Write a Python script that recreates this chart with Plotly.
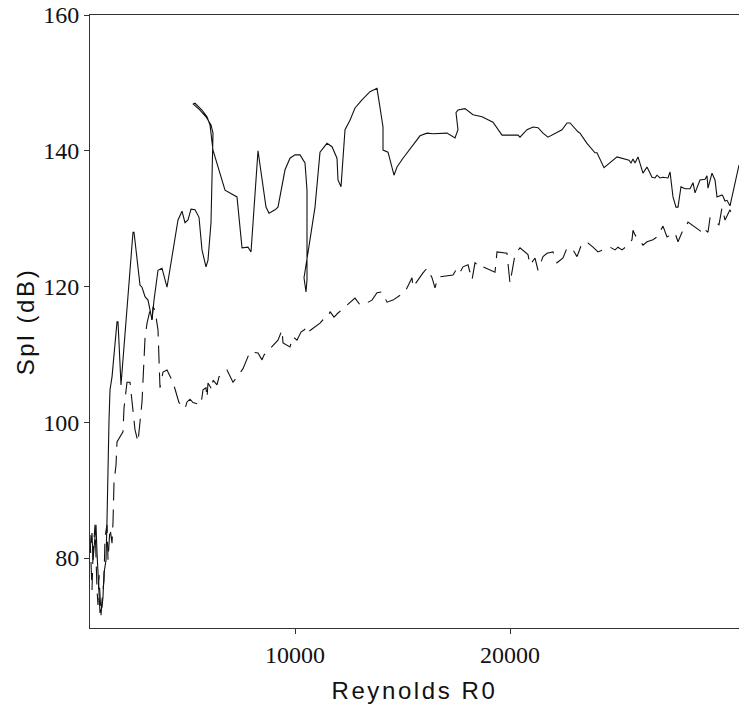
import plotly.graph_objects as go

# Reynolds number (x) and sound pressure level (y) for the two runs
solid_re = [
    512, 558, 605, 698, 744, 791, 884, 931, 1024, 1070, 1117, 1210, 1256, 1303, 1349,
    1396, 1489, 1721, 1768, 1907, 2233, 2465, 2512, 2791, 2884, 3024, 3163, 3256, 3349,
    3442, 3628, 3814, 4047, 4558, 4744, 4884, 5023, 5163, 5349, 5535, 5674, 5860, 5953,
    6093, 6186, 6186, 6093, 5860, 5581, 5256, 5349, 5674, 5907, 6047, 6186, 6744, 7302,
    7535, 7814, 7954, 8279, 8651, 8791, 9070, 9209, 9535, 9767, 10000, 10233, 10465,
    10558, 10558, 10512, 10419, 10698, 10930, 11163, 11488, 11721, 11953, 12000, 12140,
    12326, 12558, 12791, 13116, 13488, 13814, 13953, 14093, 14093, 14326, 14605, 14744,
    15023, 15488, 15814, 16140, 16419, 17070, 17442, 17581, 17488, 17581, 17907, 18279,
    18698, 19209, 19628, 20372, 20465, 20791, 21070, 21302, 21535, 21767, 22418, 22651,
    22791, 23163, 23256, 23581, 23953, 24047, 24372, 24977, 25535, 25628, 25721, 25814,
    25953, 26186, 26372, 26605, 26744, 26837, 26977, 27116, 27349, 27442, 27581, 27721,
    27814, 27953, 28140, 28372, 28512, 28605, 28837, 29070, 29163, 29209, 29395, 29535,
    29628, 29860, 29907, 30000, 30093, 30233, 30651,
]
solid_spl = [
    82.2, 83.7, 79.7, 84.1, 84.9, 80.8, 74.9, 71.9, 72.8, 74.3, 77.8, 79.7, 85.6, 94.5, 100.3,
    104.8, 106.7, 114.8, 114.8, 105.5, 119.5, 128.0, 128.0, 120.2, 119.9, 118.5, 118.0, 116.5, 115.1,
    118.0, 122.4, 122.7, 119.9, 129.8, 131.1, 129.4, 129.8, 131.4, 131.3, 130.2, 125.4, 122.9, 123.9,
    129.4, 139.1, 142.6, 143.8, 145.0, 146.0, 146.9, 147.0, 146.0, 145.0, 143.8, 140.1, 134.2, 133.2,
    125.7, 125.8, 125.1, 140.0, 131.7, 130.8, 131.3, 131.7, 137.2, 138.9, 139.4, 139.4, 138.2,
    134.2, 121.0, 119.2, 121.3, 126.9, 131.7, 139.8, 141.1, 140.6, 138.9, 135.7, 134.7,
    143.1, 144.5, 146.3, 147.5, 148.7, 149.2, 146.4, 143.5, 140.1, 139.8, 136.4, 137.6,
    138.9, 140.9, 142.2, 142.6, 142.5, 142.6, 141.9, 143.1, 145.6, 146.0, 146.2, 145.3,
    145.0, 144.2, 142.3, 142.3, 142.0, 143.1, 143.5, 143.4, 142.6, 142.0, 143.1, 144.1,
    144.1, 142.8, 142.6, 141.1, 139.7, 139.7, 137.5, 139.1, 138.6, 138.2, 138.8, 138.2,
    139.1, 136.7, 137.6, 136.1, 136.0, 136.4, 136.0, 136.1, 136.0, 136.9, 133.2, 131.7,
    131.7, 134.7, 134.4, 134.4, 135.3, 133.8, 135.7, 135.8, 136.3, 134.5, 136.7, 135.7,
    133.2, 133.5, 133.3, 132.6, 132.7, 131.9, 137.9,
]

dashed_re = [
    465, 558, 605, 698, 791, 837, 884, 977, 1024, 1117, 1163, 1256, 1303, 1349, 1396,
    1489, 1535, 1582, 1675, 1721, 2000, 2047, 2140, 2186, 2326, 2372, 2419, 2558, 2698,
    2791, 2884, 3024, 3117, 3256, 3349, 3396, 3489, 3628, 3675, 3721, 3861, 4047, 4326,
    4605, 4884, 4977, 5116, 5256, 5628, 5721, 5860, 5907, 5953, 6140, 6186, 6372, 6465,
    6651, 6837, 7116, 7582, 7768, 7907, 8279, 8465, 8558, 9070, 9209, 9395, 9442, 9767,
    9907, 10093, 10279, 10419, 10558, 10605, 11163, 11302, 11535, 11628, 11814, 12000,
    12558, 12791, 13023, 13349, 13581, 13814, 14047, 14279, 14558, 14791, 15116, 15442,
    15488, 15953, 16140, 16372, 16512, 16651, 17349, 17535, 17674, 17814, 18047, 18233,
    18372, 18698, 18744, 19302, 19395, 19860, 20000, 20233, 20465, 20837, 20930, 21163,
    21302, 21535, 21721, 22000, 22186, 22465, 22651, 22930, 23116, 23349, 23628, 23860,
    24093, 24651, 24884, 25023, 25209, 25488, 25674, 25721, 25814, 26186, 26372, 26651,
    26837, 27116, 27302, 27674, 27814, 28000, 28140, 28279, 28698, 28930, 28977, 29209,
    29302, 29721, 29860, 30000, 30233, 30372,
]
dashed_spl = [
    83.4, 75.3, 80.5, 84.9, 75.3, 73.1, 77.5, 71.6, 73.8, 76.8, 83.1, 84.9, 79.7, 81.6, 84.4,
    82.2, 85.3, 91.2, 93.7, 97.1, 98.6, 102.1, 104.5, 105.9, 105.9, 104.5, 102.3, 98.9, 97.1,
    100.6, 103.0, 112.4, 114.6, 116.5, 115.1, 117.0, 116.5, 113.6, 107.7, 105.1, 107.4, 107.7, 105.9,
    102.9, 102.0, 103.0, 103.4, 102.9, 102.6, 104.8, 105.1, 103.6, 105.8, 104.8, 106.2, 105.5, 106.7,
    107.3, 107.7, 105.9, 107.9, 109.2, 110.4, 110.2, 109.2, 109.9, 111.7, 112.1, 113.6, 111.7, 111.1,
    112.6, 112.1, 113.3, 113.6, 114.0, 113.3, 114.6, 115.1, 115.5, 116.3, 115.5, 116.1,
    117.6, 118.3, 117.3, 117.6, 118.0, 119.1, 119.2, 117.7, 118.0, 118.5, 119.2, 121.3,
    119.9, 122.0, 122.7, 121.3, 119.8, 121.4, 121.7, 122.7, 122.1, 122.9, 123.2, 121.0,
    123.5, 122.7, 122.9, 122.1, 125.1, 124.9, 120.5, 124.7, 125.7, 124.7, 123.2, 124.2,
    122.4, 124.4, 124.9, 125.1, 123.5, 124.2, 125.7, 125.4, 124.4, 126.4, 126.4, 125.8,
    125.1, 125.8, 125.4, 125.8, 125.4, 126.1, 126.9, 128.3, 127.6, 126.1, 126.6, 126.9,
    127.3, 128.9, 127.3, 127.9, 126.6, 128.0, 128.6, 129.5, 128.6, 128.0, 128.6, 128.0,
    130.1, 129.1, 131.6, 129.8, 131.3, 130.2,
]

x_ticks = [10000, 20000]
x_tick_labels = ['10000', '20000']
y_ticks = [80, 100, 120, 140, 160]

fig = go.Figure()
fig.add_trace(go.Scatter(
    x=solid_re, y=solid_spl, mode='lines',
    line=dict(color='#111111', width=1.1),
))
fig.add_trace(go.Scatter(
    x=dashed_re, y=dashed_spl, mode='lines',
    line=dict(color='#111111', width=1.1, dash='18px,9px'),
))

tick_font = dict(family='Liberation Serif', size=24, color='#111111')
title_font = dict(family='Liberation Sans', size=24, color='#111111')

fig.update_layout(
    width=739,
    height=707,
    margin=dict(l=90, r=0, t=15, b=79),
    paper_bgcolor='white',
    plot_bgcolor='white',
    showlegend=False,
    xaxis=dict(
        range=[465, 30651],
        tickvals=x_ticks,
        ticktext=x_tick_labels,
        ticks='outside', ticklen=5, tickcolor='#333333',
        showline=True, linecolor='#333333', linewidth=1, mirror=True,
        showgrid=False, zeroline=False,
        tickfont=tick_font,
        ticklabeloverflow='allow',
        title=dict(text='Reynolds R0', font=title_font, standoff=15),
        automargin=False,
    ),
    yaxis=dict(
        range=[69.7, 160],
        tickvals=y_ticks,
        ticks='outside', ticklen=5, tickcolor='#333333',
        showline=True, linecolor='#333333', linewidth=1,
        showgrid=False, zeroline=False,
        tickfont=tick_font,
        ticklabeloverflow='allow',
        title=dict(text='Spl (dB)', font=title_font, standoff=1),
        automargin=False,
    ),
)

# drop the default page margin and space out the axis titles a little
post = """
document.body.style.margin = '0';
document.body.style.overflow = 'hidden';
document.querySelectorAll('.xtitle, .ytitle').forEach(function (t) {
    t.style.letterSpacing = '2.6px';
});
"""
fig.write_html('out.html', post_script=post, config={'displayModeBar': False})
